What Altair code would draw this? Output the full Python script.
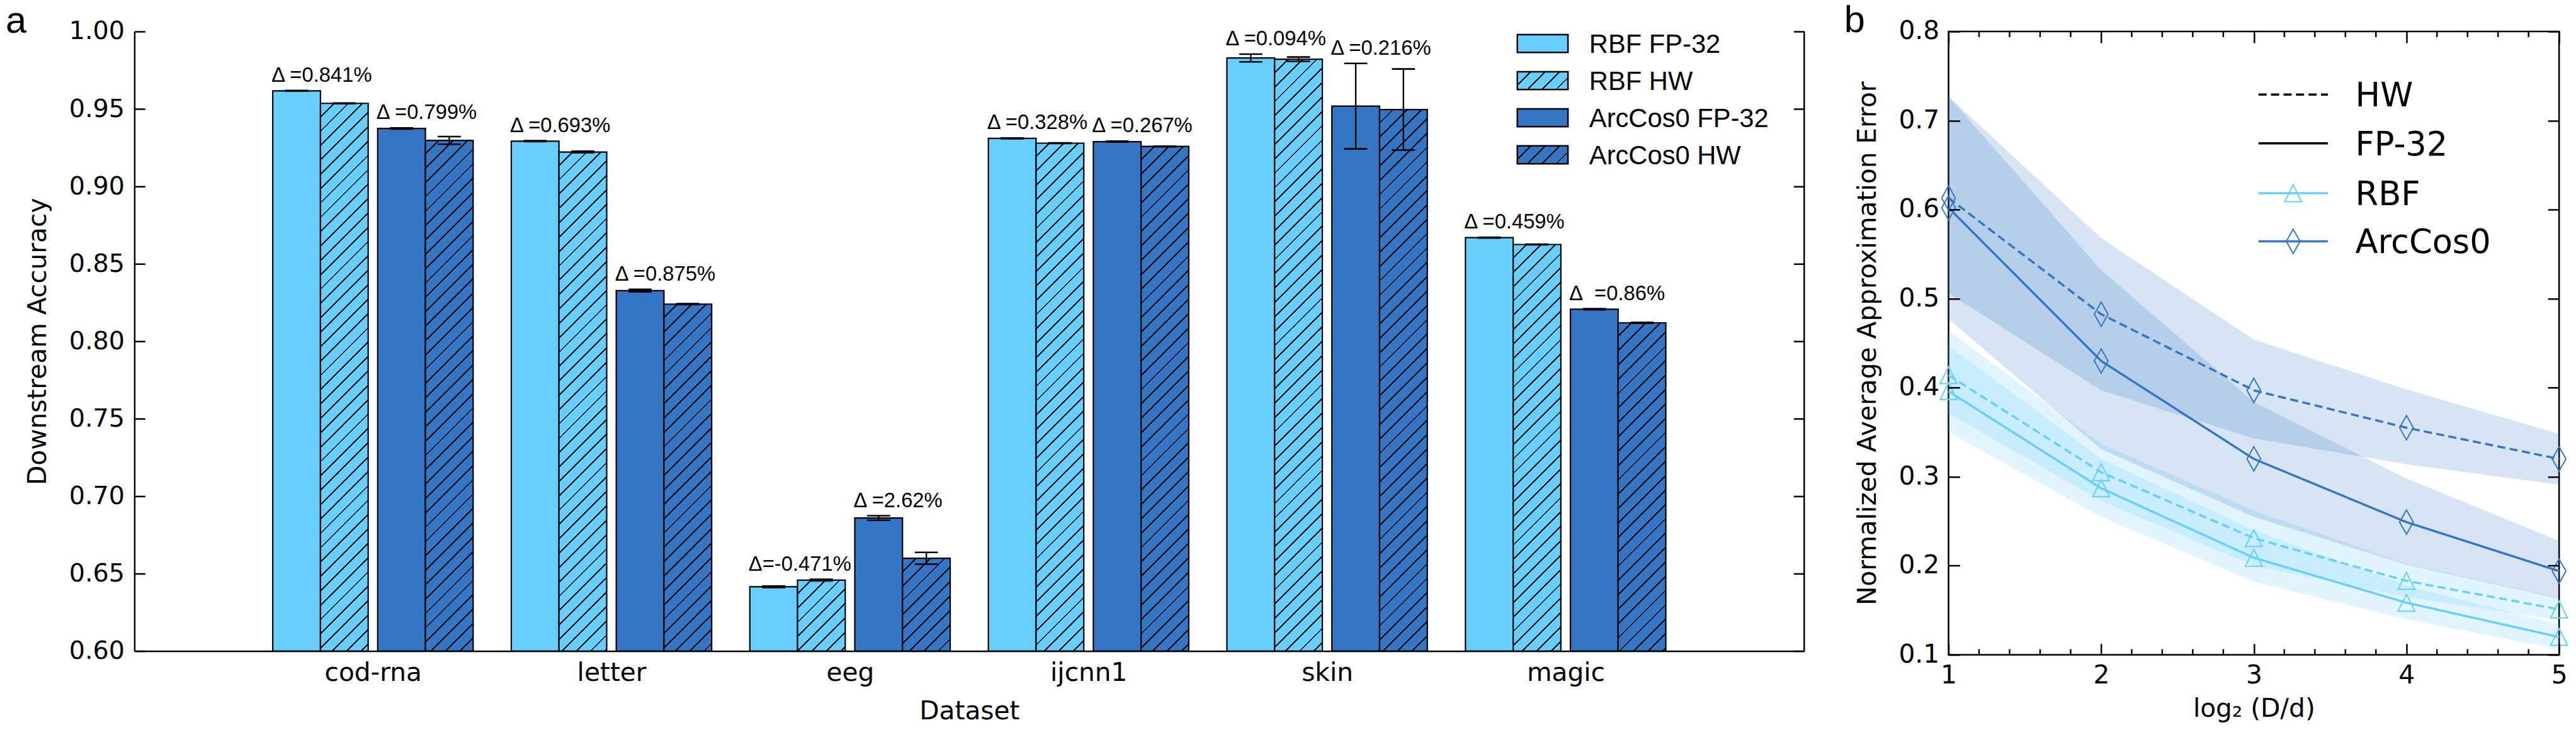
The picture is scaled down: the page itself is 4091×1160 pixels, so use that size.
import json
import altair as alt
import pandas as pd

# ------------------------------------------------------------------ data (panel a)
datasets = ["cod-rna", "letter", "eeg", "ijcnn1", "skin", "magic"]
series = ["RBF FP-32", "RBF HW", "ArcCos0 FP-32", "ArcCos0 HW"]

acc_rbf_fp = [0.9617, 0.9292, 0.6415, 0.9310, 0.9829, 0.8669]
acc_rbf_hw = [0.9536, 0.9222, 0.6458, 0.9279, 0.9821, 0.8625]
acc_arc_fp = [0.9374, 0.8327, 0.6859, 0.9289, 0.9518, 0.8207]
acc_arc_hw = [0.9297, 0.8240, 0.6599, 0.9258, 0.9496, 0.8119]

std_rbf_fp = [0.0002, 0.0003, 0.0005, 0.0002, 0.0025, 0.0002]
std_rbf_hw = [0.0002, 0.0005, 0.0005, 0.0002, 0.0014, 0.0002]
std_arc_fp = [0.0003, 0.0008, 0.0015, 0.0003, 0.0276, 0.0003]
std_arc_hw = [0.0025, 0.0003, 0.0038, 0.0002, 0.0262, 0.0003]

delta_rbf = ["Δ =0.841%", "Δ =0.693%", "Δ=-0.471%", "Δ =0.328%", "Δ =0.094%", "Δ =0.459%"]
delta_arc = ["Δ =0.799%", "Δ =0.875%", "Δ =2.62%", "Δ =0.267%", "Δ =0.216%", "Δ\u00a0\u00a0=0.86%"]

# ------------------------------------------------------------------ data (panel b)
log_ratio = [1, 2, 3, 4, 5]
kernels_b = ["RBF", "ArcCos0"]
variants_b = ["HW", "FP-32"]

err_rbf_fp = [0.396, 0.287, 0.209, 0.1585, 0.120]
err_rbf_hw = [0.414, 0.305, 0.231, 0.183, 0.151]
err_arc_fp = [0.602, 0.430, 0.320, 0.249, 0.194]
err_arc_hw = [0.613, 0.4825, 0.397, 0.355, 0.320]

band_rbf_fp_lo = [0.350, 0.255, 0.182, 0.140, 0.106]
band_rbf_fp_hi = [0.447, 0.320, 0.240, 0.178, 0.134]
band_rbf_hw_lo = [0.371, 0.273, 0.200, 0.165, 0.139]
band_rbf_hw_hi = [0.464, 0.337, 0.262, 0.202, 0.164]
band_arc_fp_lo = [0.477, 0.331, 0.255, 0.201, 0.163]
band_arc_fp_hi = [0.727, 0.532, 0.384, 0.298, 0.228]
band_arc_hw_lo = [0.506, 0.397, 0.343, 0.314, 0.291]
band_arc_hw_hi = [0.727, 0.568, 0.454, 0.398, 0.348]

legend_b_labels = ["HW", "FP-32", "RBF", "ArcCos0"]

# ------------------------------------------------------------------ style / layout
C_RBF = "#66CFFF"
C_ARC = "#3476C4"
W_A, H_A = 2672, 992
W_B, H_B = 977, 998
X_A = (0, 7)
Y_A = (0.6, 1.0)
X_B = (1, 5)
Y_B = (0.1, 0.8)
BAR_SLOTS = {
    "RBF FP-32": (-0.42, -0.22),
    "RBF HW": (-0.22, -0.02),
    "ArcCos0 FP-32": (0.02, 0.22),
    "ArcCos0 HW": (0.22, 0.42),
}
SERIES_COLOR = {"RBF FP-32": C_RBF, "RBF HW": C_RBF, "ArcCos0 FP-32": C_ARC, "ArcCos0 HW": C_ARC}
BAR_PX_W = 0.2 * W_A / (X_A[1] - X_A[0])
TRI = "M0,-1L1,1L-1,1Z"
DIA = "M0,-1L0.56,0L0,1L-0.56,0Z"
DASH = [13, 7]
MINOR_B = [round(1 + 0.2 * k, 1) for k in range(1, 20) if k % 5 != 0]
FONT = "DejaVu Sans"
AX_TXT = dict(labelColor="black", titleColor="black", labelFont=FONT, titleFont=FONT, titleFontWeight="normal")


def hatch(base, w, h, period=23.0, lw=2.8, ink="#000000"):
    """Diagonal '/' hatch as a hard-stop linear gradient in bbox units."""
    L = w + h
    a = L / (w * w + h * h)
    stops = []
    pos = 0.0
    while pos < L - 1e-9:
        e1 = min(pos + period - lw, L)
        e2 = min(pos + period, L)
        stops.append({"offset": round(pos / L, 6), "color": base})
        stops.append({"offset": round(e1 / L, 6), "color": base})
        if e1 < L:
            stops.append({"offset": round(e1 / L, 6), "color": ink})
            stops.append({"offset": round(e2 / L, 6), "color": ink})
        pos += period
    return {"gradient": "linear", "x1": 0, "y1": 0, "x2": a * w, "y2": a * h, "stops": stops}


def px_height(v):
    return (v - Y_A[0]) / (Y_A[1] - Y_A[0]) * H_A


vals = {"RBF FP-32": acc_rbf_fp, "RBF HW": acc_rbf_hw, "ArcCos0 FP-32": acc_arc_fp, "ArcCos0 HW": acc_arc_hw}
errs = {"RBF FP-32": std_rbf_fp, "RBF HW": std_rbf_hw, "ArcCos0 FP-32": std_arc_fp, "ArcCos0 HW": std_arc_hw}

rows = []
for i, d in enumerate(datasets):
    for s in series:
        v, e = vals[s][i], errs[s][i]
        a0, a1 = BAR_SLOTS[s]
        rows.append(dict(dataset=d, series=s, x0=i + 1 + a0, x1=i + 1 + a1,
                         xc=i + 1 + (a0 + a1) / 2, value=v, lo=v - e, hi=v + e))
bars_df = pd.DataFrame(rows)

drows = []
for i, d in enumerate(datasets):
    for fp, hw, lab in [("RBF FP-32", "RBF HW", delta_rbf[i]), ("ArcCos0 FP-32", "ArcCos0 HW", delta_arc[i])]:
        top = max(vals[fp][i] + errs[fp][i], vals[hw][i] + errs[hw][i])
        drows.append(dict(x=i + 1 + BAR_SLOTS[fp][0], y=top, label=lab))
delta_df = pd.DataFrame(drows)

# ------------------------------------------------------------------ panel a
xa = alt.Scale(domain=list(X_A), nice=False, zero=False)
ya = alt.Scale(domain=list(Y_A), nice=False, zero=False)

x_axis_a = alt.Axis(
    values=list(range(1, len(datasets) + 1)),
    labelExpr=json.dumps(datasets) + "[datum.value - 1]",
    ticks=False, grid=False, domain=True, domainColor="black", domainWidth=2.5,
    labelFontSize=41, labelPadding=15, labelFlush=False,
    title="Dataset", titleFontSize=41, titlePadding=22, **AX_TXT,
)
y_axis_a = alt.Axis(
    values=[round(0.6 + 0.05 * k, 2) for k in range(9)], format=".2f",
    ticks=False, domain=True, domainColor="black", domainWidth=2.5,
    grid=True, gridColor="black", gridWidth=2.5, gridOpacity=1, gridDash=[17, W_A - 34],
    labelFontSize=40, labelPadding=16,
    title="Downstream Accuracy", titleFontSize=41, titlePadding=28, **AX_TXT,
)


def XA(field):
    return alt.X(field, scale=xa, axis=x_axis_a)


def YA(field):
    return alt.Y(field, scale=ya, axis=y_axis_a)


solid = alt.Chart(bars_df).transform_filter(
    alt.FieldOneOfPredicate(field="series", oneOf=["RBF FP-32", "ArcCos0 FP-32"])
).mark_rect(stroke="black", strokeWidth=2.2, opacity=1).encode(
    x=XA("x0:Q"), x2="x1:Q", y=YA("value:Q"), y2=alt.datum(Y_A[0]),
    fill=alt.Fill("series:N", scale=alt.Scale(domain=series, range=[SERIES_COLOR[s] for s in series]), legend=None),
)

hatched = []
for i, d in enumerate(datasets):
    for s in ["RBF HW", "ArcCos0 HW"]:
        g = hatch(SERIES_COLOR[s], BAR_PX_W, px_height(vals[s][i]))
        hatched.append(
            alt.Chart(bars_df)
            .transform_filter((alt.datum.dataset == d) & (alt.datum.series == s))
            .mark_rect(fill=g, stroke="black", strokeWidth=2.2, opacity=1)
            .encode(x=XA("x0:Q"), x2="x1:Q", y=YA("value:Q"), y2=alt.datum(Y_A[0]))
        )

err_rule = alt.Chart(bars_df).mark_rule(color="black", strokeWidth=2.4).encode(
    x=XA("xc:Q"), y=YA("lo:Q"), y2="hi:Q")
cap_lo = alt.Chart(bars_df).mark_tick(orient="horizontal", size=37, thickness=2.6, color="black", opacity=1).encode(
    x=XA("xc:Q"), y=YA("lo:Q"))
cap_hi = alt.Chart(bars_df).mark_tick(orient="horizontal", size=37, thickness=2.6, color="black", opacity=1).encode(
    x=XA("xc:Q"), y=YA("hi:Q"))

delta_text = alt.Chart(delta_df).mark_text(
    align="left", baseline="alphabetic", dx=-2, dy=-14,
    font="Liberation Sans", fontSize=33, color="black",
).encode(x=XA("x:Q"), y=YA("y:Q"), text="label:N")

frame_df = pd.DataFrame({"edge": [X_A[1]], "ylo": [Y_A[0]], "yhi": [Y_A[1]]})
right_spine = alt.Chart(frame_df).mark_rule(color="black", strokeWidth=2.5).encode(
    x=XA("edge:Q"), y=YA("ylo:Q"), y2="yhi:Q")

LEG_A_X0, LEG_A_X1, LEG_A_TX = 2213, 2294, 2328
LEG_A_Y0, LEG_A_STEP, LEG_A_H = 5, 59.4, 28.5
legend_a = []
for j, s in enumerate(series):
    y0 = LEG_A_Y0 + j * LEG_A_STEP
    ldf = pd.DataFrame({"label": [s]})
    fill = hatch(SERIES_COLOR[s], LEG_A_X1 - LEG_A_X0, LEG_A_H) if s.endswith("HW") else SERIES_COLOR[s]
    legend_a.append(alt.Chart(ldf).mark_rect(fill=fill, stroke="black", strokeWidth=2.5, opacity=1).encode(
        x=alt.value(LEG_A_X0), x2=alt.value(LEG_A_X1), y=alt.value(y0), y2=alt.value(y0 + LEG_A_H)))
    legend_a.append(alt.Chart(ldf).mark_text(align="left", baseline="middle", dy=2,
                                             font="Liberation Sans", fontSize=42, color="black").encode(
        x=alt.value(LEG_A_TX), y=alt.value(y0 + LEG_A_H / 2), text="label:N"))

panel_a = alt.layer(
    solid, *hatched, err_rule, cap_lo, cap_hi, delta_text, right_spine, *legend_a
).properties(
    width=W_A, height=H_A,
    title=alt.TitleParams("a", anchor="start", frame="group", dx=-206, dy=17, offset=-18,
                          font="Liberation Sans", fontSize=60, fontWeight="normal", color="black"),
)

# ------------------------------------------------------------------ panel b
band_rows, line_rows = [], []
bands = {
    ("RBF", "HW"): (band_rbf_hw_lo, band_rbf_hw_hi, err_rbf_hw),
    ("RBF", "FP-32"): (band_rbf_fp_lo, band_rbf_fp_hi, err_rbf_fp),
    ("ArcCos0", "HW"): (band_arc_hw_lo, band_arc_hw_hi, err_arc_hw),
    ("ArcCos0", "FP-32"): (band_arc_fp_lo, band_arc_fp_hi, err_arc_fp),
}
for (k, v), (lo, hi, mean) in bands.items():
    for j, xv in enumerate(log_ratio):
        band_rows.append(dict(x=xv, lo=lo[j], hi=hi[j], kernel=k, variant=v, series=k + " " + v))
        line_rows.append(dict(x=xv, mean=mean[j], kernel=k, variant=v, series=k + " " + v))
band_df = pd.DataFrame(band_rows)
line_df = pd.DataFrame(line_rows)
minor_df = pd.DataFrame({"tick": MINOR_B})

xb = alt.Scale(domain=list(X_B), nice=False, zero=False)
yb = alt.Scale(domain=list(Y_B), nice=False, zero=False)
kcol = alt.Scale(domain=kernels_b, range=[C_RBF, C_ARC])

x_axis_b = alt.Axis(
    values=log_ratio, format="d", ticks=False, domain=False,
    grid=True, gridColor="black", gridWidth=2.5, gridOpacity=1, gridDash=[18, H_B - 36],
    labelFontSize=41, labelPadding=13, labelFlush=False,
    title="log₂ (D/d)", titleFontSize=41, titlePadding=14, zindex=1, **AX_TXT,
)
y_axis_b = alt.Axis(
    values=[round(0.1 * k, 1) for k in range(1, 9)], format=".1f", ticks=False, domain=False,
    grid=True, gridColor="black", gridWidth=2.5, gridOpacity=1, gridDash=[18, W_B - 36],
    labelFontSize=41, labelPadding=15,
    title="Normalized Average Approximation Error", titleFontSize=41, titlePadding=28, zindex=1, **AX_TXT,
)


def XB(field):
    return alt.X(field, scale=xb, axis=x_axis_b)


def YB(field, **kw):
    return alt.Y(field, scale=yb, axis=y_axis_b, **kw)


band_layer = alt.Chart(band_df).mark_area(opacity=0.2).encode(
    x=XB("x:Q"), y=YB("lo:Q", stack=False), y2="hi:Q",
    color=alt.Color("kernel:N", scale=kcol, legend=None),
    detail="series:N",
)
line_layer = alt.Chart(line_df).mark_line(strokeWidth=3.5).encode(
    x=XB("x:Q"), y=YB("mean:Q"),
    color=alt.Color("kernel:N", scale=kcol, legend=None),
    strokeDash=alt.StrokeDash("variant:N", scale=alt.Scale(domain=variants_b, range=[DASH, [1, 0]]), legend=None),
    detail="series:N",
)
point_layer = alt.Chart(line_df).mark_point(filled=False, strokeWidth=2, opacity=1).encode(
    x=XB("x:Q"), y=YB("mean:Q"),
    color=alt.Color("kernel:N", scale=kcol, legend=None),
    shape=alt.Shape("kernel:N", scale=alt.Scale(domain=kernels_b, range=[TRI, DIA]), legend=None),
    size=alt.Size("kernel:O", scale=alt.Scale(domain=kernels_b, range=[729, 1521]), legend=None),
)

# minor ticks (inward, top and bottom)
minor_top = alt.Chart(minor_df).mark_rule(color="black", strokeWidth=2.5).encode(
    x=XB("tick:Q"), y=alt.value(0), y2=alt.value(9))
minor_bot = alt.Chart(minor_df).mark_rule(color="black", strokeWidth=2.5).encode(
    x=XB("tick:Q"), y=alt.value(H_B - 9), y2=alt.value(H_B))

LEG_B_X0, LEG_B_X1, LEG_B_TX = 496, 607, 651
LEG_B_YS = [101, 179, 259, 336]
leg_b_style = {
    "HW": ("black", DASH, None, None),
    "FP-32": ("black", [1, 0], None, None),
    "RBF": (C_RBF, [1, 0], TRI, 729),
    "ArcCos0": (C_ARC, [1, 0], DIA, 1521),
}
legend_b = []
for lab, yv in zip(legend_b_labels, LEG_B_YS):
    col, dash, shp, sz = leg_b_style[lab]
    ldf = pd.DataFrame({"label": [lab]})
    legend_b.append(alt.Chart(ldf).mark_rule(color=col, strokeWidth=3.5, strokeDash=dash).encode(
        x=alt.value(LEG_B_X0), x2=alt.value(LEG_B_X1), y=alt.value(yv)))
    if shp:
        legend_b.append(alt.Chart(ldf).mark_point(filled=False, strokeWidth=2, opacity=1, color=col).encode(
            x=alt.value((LEG_B_X0 + LEG_B_X1) / 2), y=alt.value(yv), shape=alt.value(shp), size=alt.value(sz)))
    legend_b.append(alt.Chart(ldf).mark_text(align="left", baseline="middle", dy=3,
                                             font=FONT, fontSize=53, color="black").encode(
        x=alt.value(LEG_B_TX), y=alt.value(yv), text="label:N"))

panel_b = alt.layer(
    band_layer, line_layer, point_layer, minor_top, minor_bot, *legend_b
).properties(
    width=W_B, height=H_B,
    view=alt.ViewBackground(stroke="black", strokeWidth=2.6),
    title=alt.TitleParams("b", anchor="start", frame="group", dx=-167, dy=17, offset=-18,
                          font="Liberation Sans", fontSize=60, fontWeight="normal", color="black"),
)

chart = alt.hconcat(panel_a, panel_b, spacing=60).properties(
    padding={"left": 0, "top": -11, "right": 0, "bottom": 0},
).configure_view(stroke="transparent")

chart.save("out.html", embed_options={"renderer": "svg", "actions": False})
